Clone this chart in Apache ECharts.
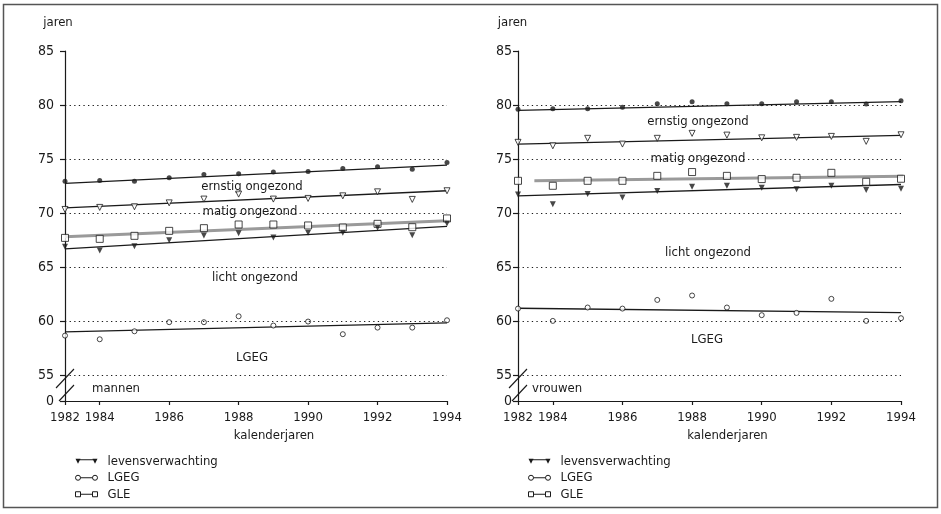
<!DOCTYPE html>
<html><head><meta charset="utf-8">
<script src="https://cdn.jsdelivr.net/npm/echarts@6/dist/echarts.min.js"></script>
<style>html,body{margin:0;padding:0;background:#fff}#c{width:941px;height:514px}</style>
</head><body><div id="c"></div>
<script>
// ---- categories & ticks ----
const years = ['1982','1984','1985','1986','1987','1988','1989','1990','1991','1992','1993','1994'];
const yearTickIdx = [0, 1, 3, 5, 7, 9, 11];
const yTickValues = [55, 60, 65, 70, 75, 80, 85];
const dottedLevels = [55, 60, 65, 70, 75, 80];
const yBreakLabel = '0';

// ---- mannen ----
const menTop    = [72.96, 73.03, 72.96, 73.27, 73.58, 73.64, 73.80, 73.86, 74.14, 74.29, 74.05, 74.69];
const menSevere = [70.34, 70.53, 70.59, 70.95, 71.30, 71.76, 71.30, 71.36, 71.60, 71.97, 71.27, 72.07];
const menGLE    = [67.71, 67.62, 67.90, 68.36, 68.61, 68.95, 68.95, 68.86, 68.67, 69.01, 68.70, 69.51];
const menLE     = [66.88, 66.55, 66.94, 67.50, 67.93, 68.15, 67.75, 68.18, 68.18, 68.64, 67.96, 69.05];
const menLGEG   = [58.67, 58.33, 59.07, 59.91, 59.91, 60.46, 59.60, 59.97, 58.80, 59.41, 59.41, 60.09];
const menTrendX       = [0, 11];
const menTrendTop     = [72.75, 74.44];
const menTrendSevere  = [70.49, 72.07];
const menTrendGLE     = [67.81, 69.29];
const menTrendLE      = [66.70, 68.77];
const menTrendLGEG    = [59.01, 59.85];

// ---- vrouwen ----
const womTop    = [79.60, 79.66, 79.66, 79.79, 80.12, 80.31, 80.12, 80.12, 80.31, 80.31, 80.09, 80.40];
const womSevere = [76.55, 76.23, 76.92, 76.39, 76.92, 77.38, 77.22, 76.97, 77.01, 77.10, 76.64, 77.25];
const womGLE    = [72.99, 72.53, 72.99, 72.99, 73.45, 73.80, 73.45, 73.15, 73.27, 73.73, 72.90, 73.18];
const womLE     = [71.73, 70.83, 71.76, 71.45, 72.04, 72.44, 72.53, 72.34, 72.22, 72.53, 72.13, 72.25];
const womLGEG   = [61.17, 60.03, 61.27, 61.17, 61.97, 62.38, 61.27, 60.56, 60.77, 62.07, 60.03, 60.28];
const womTrendX       = [0, 11];
const womTrendGLEX    = [0.47, 11.47];
const womTrendTop     = [79.51, 80.31];
const womTrendSevere  = [76.39, 77.19];
const womTrendGLE     = [72.99, 73.43];
const womTrendLE      = [71.60, 72.65];
const womTrendLGEG    = [61.20, 60.80];

// ---- styling ----
const FONT = '"Liberation Sans Narrow","DejaVu Sans Condensed","Arial Narrow",sans-serif';
const FS = 13;
const INK = '#1a1a1a';
const Y_MIN = 52.62;

function pts(vals) { return vals.map((v, i) => [i, v]); }
function trend(xs, vs) { return xs.map((x, i) => [x, vs[i]]); }

function panelSeries(idx, d) {
  const base = { xAxisIndex: idx, yAxisIndex: idx, silent: true, animation: false };
  const scat = (name, data, symbol, size, fill, rot) => Object.assign({
    type: 'scatter', name, data: pts(data), symbol, symbolSize: size, symbolRotate: rot || 0, z: 4,
    itemStyle: { color: fill, borderColor: INK, borderWidth: fill === INK ? 0 : 1 }
  }, base);
  const line = (name, data, color, width) => Object.assign({
    type: 'line', name, data, showSymbol: false, symbol: 'none', z: 3,
    lineStyle: { color, width }
  }, base);
  return [
    Object.assign({
      type: 'line', name: '_grid' + idx, data: [], z: 1,
      markLine: {
        silent: true, symbol: ['none', 'none'], label: { show: false },
        lineStyle: { color: INK, width: 1.2, type: [1.3, 3.3] },
        data: dottedLevels.map(v => ({ yAxis: v }))
      }
    }, base),
    line('ernstig ongezond grens', trend(d.tx, d.tTop), INK, 1.3),
    line('matig ongezond grens', trend(d.tx, d.tSevere), INK, 1.3),
    line('GLE', trend(d.tgx, d.tGLE), '#9a9a9a', 3),
    line('levensverwachting', trend(d.tx, d.tLE), INK, 1.3),
    line('LGEG', trend(d.tx, d.tLGEG), INK, 1.3),
    scat('ernstig ongezond grens', d.top, 'circle', 5, INK),
    scat('matig ongezond grens', d.severe, 'triangle', 6, '#fff', 180),
    scat('GLE', d.gle, 'rect', 7, '#fff'),
    scat('levensverwachting', d.le, 'triangle', 6, INK, 180),
    scat('LGEG', d.lgeg, 'circle', 5, '#fff')
  ];
}

const grids = [
  { left: 65, top: 51, width: 382, height: 350 },
  { left: 518, top: 51, width: 383, height: 350 }
];
const yLabelMargin = [11, 6];
const jarenPad = [[0, 14, 0, 0], [0, 11, 0, 0]];

const xAxes = grids.map((g, i) => ({
  type: 'value', gridIndex: i, min: 0, max: 11,
  name: 'kalenderjaren', nameLocation: 'middle', nameGap: 28,
  nameTextStyle: { fontFamily: FONT, fontSize: FS, color: INK, padding: [0, 0, 0, 36] },
  axisLine: { show: true, lineStyle: { color: INK, width: 1.2 } },
  axisTick: { show: true, length: 4, customValues: yearTickIdx, lineStyle: { color: INK, width: 1.2 } },
  axisLabel: { customValues: yearTickIdx, formatter: v => years[Math.round(v)], margin: 10,
    fontFamily: FONT, fontSize: FS, color: INK, hideOverlap: false },
  splitLine: { show: false }
}));

const yAxes = grids.map((g, i) => ({
  type: 'value', gridIndex: i, min: Y_MIN, max: 85,
  name: 'jaren', nameLocation: 'end', nameGap: 22,
  nameTextStyle: { fontFamily: FONT, fontSize: FS, color: INK, align: 'center', padding: jarenPad[i] },
  axisLine: { show: true, lineStyle: { color: INK, width: 1.2 } },
  axisTick: { show: true, length: 5, customValues: [Y_MIN].concat(yTickValues), lineStyle: { color: INK, width: 1.2 } },
  axisLabel: { customValues: [Y_MIN].concat(yTickValues), margin: yLabelMargin[i],
    formatter: v => (v < 54 ? yBreakLabel : String(v)),
    fontFamily: FONT, fontSize: FS + 1, color: INK },
  splitLine: { show: false }
}));

const series = [].concat(
  panelSeries(0, { top: menTop, severe: menSevere, gle: menGLE, le: menLE, lgeg: menLGEG,
    tx: menTrendX, tgx: menTrendX, tTop: menTrendTop, tSevere: menTrendSevere, tGLE: menTrendGLE, tLE: menTrendLE, tLGEG: menTrendLGEG }),
  panelSeries(1, { top: womTop, severe: womSevere, gle: womGLE, le: womLE, lgeg: womLGEG,
    tx: womTrendX, tgx: womTrendGLEX, tTop: womTrendTop, tSevere: womTrendSevere, tGLE: womTrendGLE, tLE: womTrendLE, tLGEG: womTrendLGEG })
);

const legendItems = [
  { name: 'levensverwachting', icon: 'path://M0,0 L5,0 L2.5,5 Z M2.5,0.6 L19.5,0.6 L19.5,1.6 L2.5,1.6 Z M17,0 L22,0 L19.5,5 Z',
    itemStyle: { color: INK, borderWidth: 0 } },
  { name: 'LGEG', icon: 'path://M0,2.5 A2.5,2.5 0 1,1 5,2.5 A2.5,2.5 0 1,1 0,2.5 Z M5,2.5 L17,2.5 M17,2.5 A2.5,2.5 0 1,1 22,2.5 A2.5,2.5 0 1,1 17,2.5 Z',
    itemStyle: { color: '#fff', borderColor: INK, borderWidth: 1 } },
  { name: 'GLE', icon: 'path://M0,0 L5,0 L5,5 L0,5 Z M5,2.5 L17,2.5 M17,0 L22,0 L22,5 L17,5 Z',
    itemStyle: { color: '#fff', borderColor: INK, borderWidth: 1 } }
];
const legends = [70, 523].map(left => ({
  left, top: 448, orient: 'vertical', itemWidth: 22, itemHeight: 5, itemGap: 0,
  selectedMode: false, data: legendItems,
  textStyle: { fontFamily: FONT, fontSize: FS, lineHeight: 16.5, color: INK, padding: [0, 0, 0, 5] }
}));

function txt(text, x, y, opts) {
  return Object.assign({
    type: 'text', z: 2, silent: true,
    style: Object.assign({ text, x, y, font: FS + 'px ' + FONT, fill: INK,
      align: 'center', textAlign: 'center', verticalAlign: 'middle', textVerticalAlign: 'middle' }, opts || {})
  });
}
function slash(x1, y1, x2, y2) {
  return { type: 'line', z: 5, silent: true, shape: { x1, y1, x2, y2 }, style: { stroke: INK, lineWidth: 1.1 } };
}

const graphics = [
  { type: 'rect', silent: true, z: 0, shape: { x: 3.5, y: 4.5, width: 934, height: 503 },
    style: { fill: 'none', stroke: '#555', lineWidth: 1.5 } },
  txt('ernstig ongezond', 252, 187),
  txt('matig ongezond', 250, 212, { backgroundColor: '#fff', padding: [0, 7], lineHeight: 13 }),
  txt('licht ongezond', 255, 278),
  txt('LGEG', 252, 358),
  txt('mannen', 92, 389, { align: 'left', textAlign: 'left' }),
  txt('ernstig ongezond', 698, 122),
  txt('matig ongezond', 698, 159, { backgroundColor: '#fff', padding: [0, 20], lineHeight: 13 }),
  txt('licht ongezond', 708, 253),
  txt('LGEG', 707, 340),
  txt('vrouwen', 532, 389, { align: 'left', textAlign: 'left' }),
  slash(56, 388, 74, 369), slash(59, 401, 74, 385),
  slash(509, 388, 527, 369), slash(512, 401, 527, 385)
];

const chart = echarts.init(document.getElementById('c'), null, { renderer: 'canvas' });
chart.setOption({
  animation: false,
  backgroundColor: '#fff',
  textStyle: { fontFamily: FONT },
  grid: grids,
  xAxis: xAxes,
  yAxis: yAxes,
  legend: legends,
  series,
  graphic: { elements: graphics }
});
</script></body></html>
